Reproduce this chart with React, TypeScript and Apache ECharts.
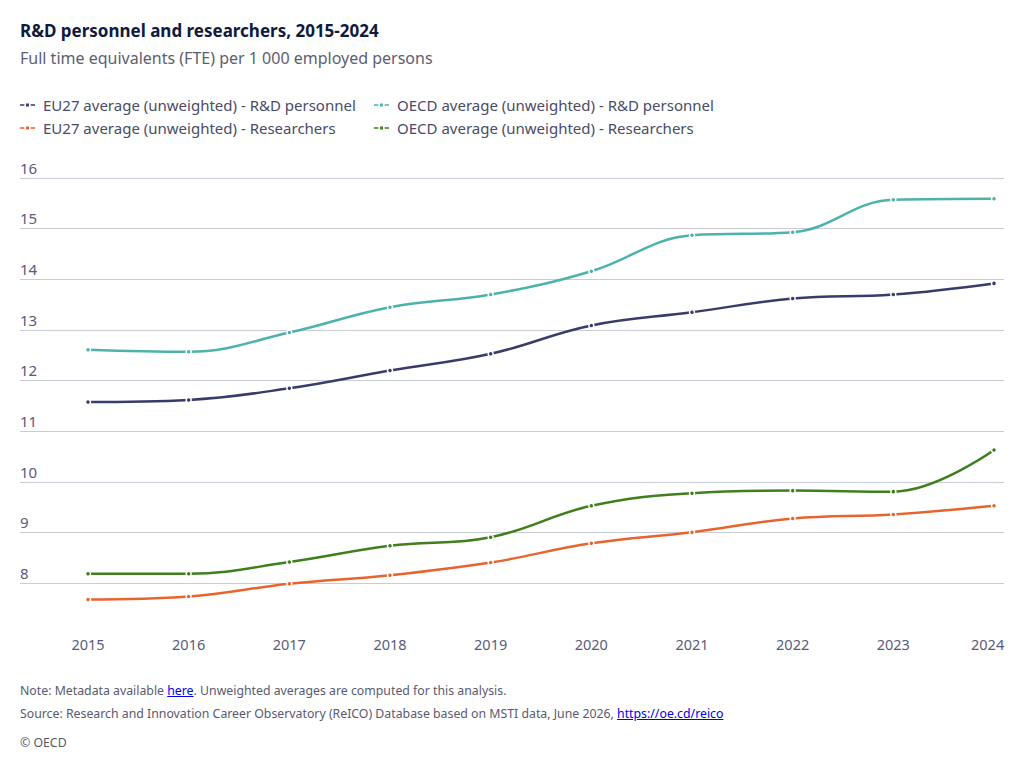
import React, { useEffect, useRef } from "react";
import * as echarts from "echarts";

const years = ["2015", "2016", "2017", "2018", "2019", "2020", "2021", "2022", "2023", "2024"];
const eu27Personnel = [11.58, 11.62, 11.85, 12.2, 12.53, 13.09, 13.35, 13.62, 13.7, 13.92];
const oecdPersonnel = [12.61, 12.57, 12.95, 13.45, 13.7, 14.16, 14.87, 14.93, 15.57, 15.59];
const eu27Researchers = [7.68, 7.74, 7.99, 8.16, 8.41, 8.79, 9.01, 9.28, 9.36, 9.53];
const oecdResearchers = [8.19, 8.19, 8.42, 8.74, 8.91, 9.53, 9.78, 9.83, 9.81, 10.63];

const seriesNames = [
  "EU27 average (unweighted) - R&D personnel",
  "OECD average (unweighted) - R&D personnel",
  "EU27 average (unweighted) - Researchers",
  "OECD average (unweighted) - Researchers",
];
const colors = ["#393b6a", "#4cb2aa", "#e8642f", "#3f7f1c"];

const FONT = "'Noto Sans', sans-serif";
const ICON = "path://M0,1.2 h4.5 v1.6 h-4.5 Z M6.2,0.5 h3 v3 h-3 Z M10.9,1.2 h4.5 v1.6 h-4.5 Z";

export default function App() {
  const ref = useRef<HTMLDivElement>(null);

  useEffect(() => {
    if (!ref.current) return;
    const chart = echarts.init(ref.current, undefined, { renderer: "svg" });
    const datasets = [eu27Personnel, oecdPersonnel, eu27Researchers, oecdResearchers];
    const legendCommon = {
      orient: "vertical" as const,
      icon: ICON,
      itemWidth: 15,
      itemHeight: 4,
      itemGap: 5,
      padding: 0,
      selectedMode: false,
      itemStyle: { borderWidth: 0 },
      lineStyle: { width: 0 },
      textStyle: {
        fontFamily: FONT,
        fontSize: 15,
        color: "#4a4b68",
        lineHeight: 18,
        padding: [0, 0, 0, 3],
      },
    };
    chart.setOption({
      animation: false,
      backgroundColor: "#ffffff",
      textStyle: { fontFamily: FONT },
      title: {
        text: "R&D personnel and researchers, 2015-2024",
        subtext: "Full time equivalents (FTE) per 1 000 employed persons",
        left: 20,
        top: 20,
        padding: 0,
        itemGap: 8,
        textStyle: {
          fontFamily: FONT,
          fontSize: 17,
          fontWeight: "bold",
          color: "#0e1a3e",
          lineHeight: 20,
        },
        subtextStyle: {
          fontFamily: FONT,
          fontSize: 16,
          color: "#5d5e72",
          lineHeight: 20,
        },
      },
      legend: [
        { ...legendCommon, left: 20, top: 96, data: [seriesNames[0], seriesNames[2]] },
        { ...legendCommon, left: 374, top: 96, data: [seriesNames[1], seriesNames[3]] },
      ],
      grid: [
        { left: 20, right: 20, top: 178, bottom: 134 },
        { left: 88, right: 30, top: 178, bottom: 134 },
      ],
      xAxis: [
        { gridIndex: 0, type: "value", min: 0, max: 1, show: false },
        {
          gridIndex: 1,
          type: "category",
          data: years,
          boundaryGap: false,
          axisLine: { show: false },
          axisTick: { show: false },
          axisLabel: {
            color: "#5a5b7a",
            fontSize: 14.5,
            fontFamily: FONT,
            margin: 2,
            formatter: (v: string) => (v === years[years.length - 1] ? `{last|${v}}` : v),
            rich: {
              last: { width: 46, align: "left", color: "#5a5b7a", fontSize: 14.5, fontFamily: FONT },
            },
          },
        },
      ],
      yAxis: [
        {
          gridIndex: 0,
          type: "value",
          min: 7,
          max: 16,
          interval: 1,
          axisLine: { show: false },
          axisTick: { show: false },
          axisLabel: {
            inside: true,
            showMinLabel: false,
            margin: 0,
            verticalAlign: "bottom",
            padding: [0, 0, 3, 0],
            color: "#5a5b7a",
            fontSize: 15,
            fontFamily: FONT,
          },
          splitLine: { show: true, showMinLine: false, lineStyle: { color: "#c9ccd5", width: 1 } },
        },
        { gridIndex: 1, type: "value", min: 7, max: 16, show: false, splitLine: { show: false } },
      ],
      series: seriesNames.map((name, i) => ({
        name,
        type: "line",
        xAxisIndex: 1,
        yAxisIndex: 1,
        data: datasets[i],
        smooth: 0.4,
        symbol: "circle",
        symbolSize: 5,
        showSymbol: true,
        lineStyle: { color: colors[i], width: 2.5 },
        itemStyle: { color: colors[i], borderColor: "#ffffff", borderWidth: 1.5 },
        z: 10 - i,
      })),
    });
    return () => chart.dispose();
  }, []);

  const footStyle: React.CSSProperties = {
    position: "absolute",
    left: 20,
    fontFamily: FONT,
    fontSize: 12.3,
    color: "#595a70",
    lineHeight: "16px",
    whiteSpace: "nowrap",
  };

  return (
    <div style={{ position: "absolute", left: 0, top: 0, width: 1024, height: 768, background: "#fff" }}>
      <div ref={ref} style={{ width: 1024, height: 768 }} />
      <div style={{ ...footStyle, top: 683 }}>
        Note: Metadata available <a href="#" style={{ color: "#0000ee" }}>here</a>. Unweighted averages are computed for this analysis.
      </div>
      <div style={{ ...footStyle, top: 706 }}>
        Source: Research and Innovation Career Observatory (ReICO) Database based on MSTI data, June 2026,{" "}
        <a href="#" style={{ color: "#0000ee" }}>https://oe.cd/reico</a>
      </div>
      <div style={{ ...footStyle, top: 735 }}>© OECD</div>
    </div>
  );
}
